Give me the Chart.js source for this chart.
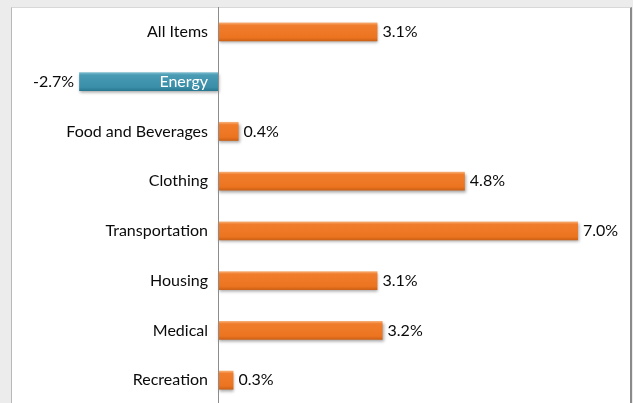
<!DOCTYPE html>
<html>
<head>
<meta charset="utf-8">
<script src="https://cdn.jsdelivr.net/npm/chart.js@4.4.0/dist/chart.umd.min.js"></script>
<style>
  html, body { margin: 0; padding: 0; overflow: hidden; background: #ececec; }
  #panel {
    position: absolute; left: 11px; top: 7px; width: 618px; height: 420px;
    background: #fff; border-left: 1px solid #b8b8b8; border-top: 1px solid #d8d8d8;
    border-right: 2px solid #8a8a8a;
  }
  #chart { position: absolute; left: 0; top: 0; }
</style>
</head>
<body>
<div id="panel"></div>
<canvas id="chart" width="633" height="412"></canvas>
<script>
// Price change by category (%)
const categories = ['All Items', 'Energy', 'Food and Beverages', 'Clothing', 'Transportation', 'Housing', 'Medical', 'Recreation'];
const changes = [3.1, -2.7, 0.4, 4.8, 7.0, 3.1, 3.2, 0.3];

const FONT = 'Lato, "Open Sans", sans-serif';

function barFill(ctx) {
  const chart = ctx.chart;
  const v = changes[ctx.dataIndex];
  const y = chart.scales.y;
  const neg = v < 0;
  if (!y || !chart.chartArea) return neg ? '#3a8fa9' : '#ef7722';
  const c = y.getPixelForValue(ctx.dataIndex);
  const h = 9.5;
  const g = chart.ctx.createLinearGradient(0, c - h, 0, c + h);
  if (neg) {
    g.addColorStop(0, '#86c1d2');
    g.addColorStop(0.15, '#4a9bb4');
    g.addColorStop(0.8, '#3a8ea8');
    g.addColorStop(1, '#26758e');
  } else {
    g.addColorStop(0, '#f8b57f');
    g.addColorStop(0.15, '#f07d2c');
    g.addColorStop(0.8, '#ec7420');
    g.addColorStop(1, '#c95f15');
  }
  return g;
}

// soft drop shadow under bars
const shadowPlugin = {
  id: 'shadow',
  beforeDatasetsDraw(chart) {
    const ctx = chart.ctx;
    ctx.save();
    ctx.shadowColor = 'rgba(0,0,0,0.35)';
    ctx.shadowBlur = 3;
    ctx.shadowOffsetX = 1;
    ctx.shadowOffsetY = 2;
  },
  afterDatasetsDraw(chart) {
    chart.ctx.restore();
  }
};

// value labels at the end of each bar
const valueLabels = {
  id: 'valueLabels',
  afterDatasetsDraw(chart) {
    const ctx = chart.ctx;
    const meta = chart.getDatasetMeta(0);
    ctx.save();
    ctx.font = '16px ' + FONT;
    ctx.fillStyle = '#0a0a0a';
    ctx.textBaseline = 'middle';
    meta.data.forEach((bar, i) => {
      const v = changes[i];
      const txt = v.toFixed(1) + '%';
      if (v < 0) {
        ctx.textAlign = 'right';
        ctx.fillText(txt, bar.x - 5, bar.y);
      } else {
        ctx.textAlign = 'left';
        ctx.fillText(txt, bar.x + 5, bar.y);
      }
    });
    ctx.restore();
  }
};

new Chart(document.getElementById('chart'), {
  type: 'bar',
  plugins: [shadowPlugin, valueLabels],
  data: {
    labels: categories,
    datasets: [{
      data: changes,
      backgroundColor: barFill,
      borderWidth: 0,
      categoryPercentage: 1,
      barPercentage: 0.38,
      clip: false
    }]
  },
  options: {
    indexAxis: 'y',
    responsive: false,
    animation: false,
    layout: { padding: { left: 12, right: 3.6, top: 7, bottom: 7 } },
    plugins: { legend: { display: false }, tooltip: { enabled: false } },
    scales: {
      x: {
        min: 0,
        max: 8,
        display: false
      },
      y: {
        position: 'left',
        afterFit: (s) => { s.width = 206; s.paddingTop = 0; s.paddingBottom = 0; },
        grid: { color: 'transparent', drawTicks: false },
        border: { display: true, color: '#8c8c8c', width: 1, z: 1 },
        ticks: {
          z: 1,
          padding: 10,
          color: (c) => c.index === 1 ? '#ffffff' : '#0a0a0a',
          font: { family: FONT, size: 16 }
        }
      }
    }
  }
});
</script>
</body>
</html>
